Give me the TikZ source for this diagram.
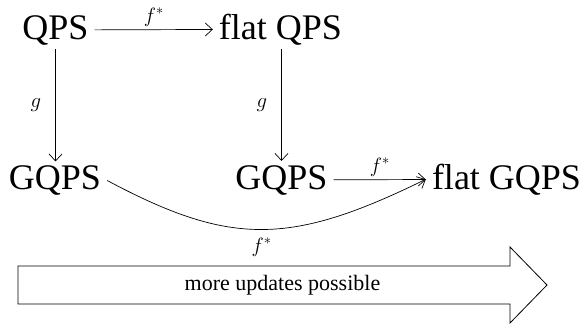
\documentclass[tikz,border=0pt]{standalone}
\usepackage{fontspec}
\setmainfont{Liberation Serif}
\usepackage{tikz}
\usetikzlibrary{arrows.meta,positioning}

\begin{document}
\begin{tikzpicture}[
  x=1pt, y=-1pt,
  obj/.style={anchor=base, inner xsep=6pt, inner ysep=4pt,
              font=\fontsize{36}{40}\selectfont},
  map/.style={-{Straight Barb[length=7pt,width=13pt]}, line width=0.7pt},
  lab/.style={font=\fontsize{22}{26}\selectfont, inner sep=3pt},
  bigarrow/.style={draw, line width=0.8pt}]
\useasboundingbox (0,0) rectangle (585,325);
\node[obj] (qps)   at (55.5,39)  {QPS};
\node[obj] (fqps)  at (280.5,39) {flat QPS};
\node[obj] (gqpsl) at (55,189.5) {GQPS};
\node[obj] (gqpsr) at (281.5,189) {GQPS};
\node[obj] (fgqps) at (506.5,189) {flat GQPS};
\draw[map] (qps) -- node[lab, above]{$f^*$} (fqps);
\draw[map] (qps.south) -- node[lab, left=11pt]{$g$} (qps.south |- gqpsl.north);
\draw[map] (fqps.south -| gqpsr) -- node[lab, left=11pt]{$g$} (gqpsr.north);
\draw[map] (gqpsr) -- node[lab, above]{$f^*$} (fgqps);
\draw[map] (gqpsl.east) .. controls (230,246) and (290,246) .. (fgqps.west)
  node[lab, pos=0.5, below=5pt]{$f^*$};
% the big arrow
\draw[bigarrow] (18,266) -- (510,266) -- (510,247) -- (547,285)
  -- (510,323) -- (510,304) -- (18,304) -- cycle;
\node[lab] (more) at (282.5,285) {more updates possible};
\end{tikzpicture}
\end{document}
